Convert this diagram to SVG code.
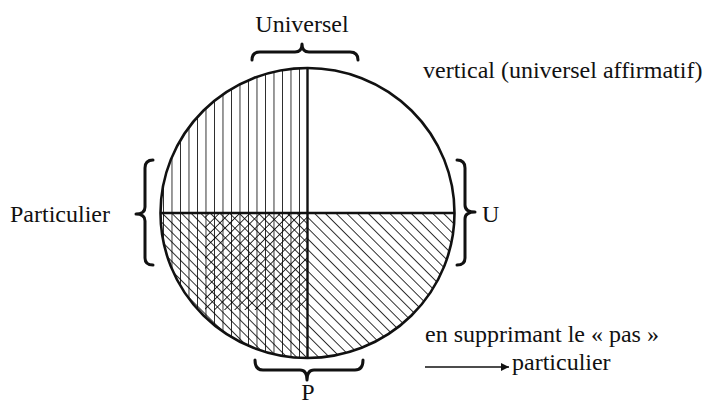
<svg xmlns="http://www.w3.org/2000/svg" width="708" height="406" viewBox="0 0 708 406">
  <style>
    text { font-family: "Liberation Serif", "Times New Roman", serif; font-size: 24px; fill: #111; }
    .brace { fill: none; stroke: #111; stroke-width: 3; stroke-linejoin: round; stroke-linecap: round; }
    .outline { fill: none; stroke: #111; stroke-width: 2.6; }
    .divider { stroke: #111; stroke-width: 2.4; }
    .hatch { stroke: #000; stroke-width: 1.6; }
  </style>
  <defs>
    <clipPath id="circ">
      <ellipse cx="307.5" cy="213" rx="147" ry="145"/>
    </clipPath>
    <clipPath id="lowerHalf">
      <rect x="150" y="213" width="320" height="160"/>
    </clipPath>
    <clipPath id="crossZone">
      <rect x="205" y="213" width="103" height="97"/>
    </clipPath>
    <pattern id="vert" patternUnits="userSpaceOnUse" x="307.5" y="0" width="8.5" height="10">
      <line x1="0" y1="-1" x2="0" y2="11" class="hatch"/>
    </pattern>
    <pattern id="backL" patternUnits="userSpaceOnUse" x="0" y="0" width="6.8" height="10" patternTransform="rotate(-45 307 213)">
      <line x1="0" y1="-1" x2="0" y2="11" class="hatch"/>
    </pattern>
    <pattern id="backR" patternUnits="userSpaceOnUse" x="0" y="0" width="7.6" height="10" patternTransform="rotate(-45 307 213)">
      <line x1="0" y1="-1" x2="0" y2="11" class="hatch"/>
    </pattern>
    <pattern id="fwd" patternUnits="userSpaceOnUse" x="0" y="0" width="7.2" height="10" patternTransform="rotate(45 307 213)">
      <line x1="0" y1="-1" x2="0" y2="11" class="hatch"/>
    </pattern>
    <marker id="arrow" viewBox="0 0 10 10" refX="10" refY="5" markerWidth="10" markerHeight="8" markerUnits="userSpaceOnUse" orient="auto">
      <path d="M0,0 L10,5 L0,10 Z" fill="#111"/>
    </marker>
  </defs>

  <g id="circle">
    <g clip-path="url(#circ)">
      <rect x="150" y="60" width="157.5" height="310" fill="url(#vert)"/>
      <g clip-path="url(#lowerHalf)">
        <rect x="150" y="213" width="157.5" height="160" fill="url(#backL)"/>
        <rect x="307.5" y="213" width="160" height="160" fill="url(#backR)"/>
        <rect x="150" y="213" width="157.5" height="160" fill="url(#fwd)" clip-path="url(#crossZone)"/>
      </g>
    </g>
    <line x1="307.5" y1="68" x2="307.5" y2="358" class="divider"/>
    <line x1="160.5" y1="213" x2="454.5" y2="213" class="divider"/>
    <ellipse cx="307.5" cy="213" rx="147" ry="145" class="outline"/>
  </g>

  <g id="universel">
    <path class="brace" d="M252,60 Q252,52 260,52 L295,52 Q302,52 302,44 Q302,52 309,52 L350,52 Q358,52 358,60"/>
    <text x="302" y="32" text-anchor="middle">Universel</text>
  </g>

  <g id="particulier">
    <path class="brace" d="M153,160 Q145,160 145,168 L145,207 Q145,214 136,214 Q145,214 145,221 L145,258 Q145,265 153,265"/>
    <text x="10" y="222">Particulier</text>
  </g>

  <g id="u">
    <path class="brace" d="M457,160 Q465,160 465,168 L465,205 Q465,212 475,212 Q465,212 465,219 L465,258 Q465,265 457,265"/>
    <text x="482" y="222">U</text>
  </g>

  <g id="p">
    <path class="brace" d="M255,360 Q255,370 263,370 L300,370 Q307,370 307,380 Q307,370 314,370 L355,370 Q363,370 363,360"/>
    <text x="308" y="400" text-anchor="middle">P</text>
  </g>

  <g id="vertical-label">
    <text x="423" y="78">vertical (universel affirmatif)</text>
  </g>

  <g id="note">
    <text x="425" y="342">en supprimant le « pas »</text>
    <text x="512" y="370">particulier</text>
  </g>

  <g id="connectors">
    <line x1="425" y1="367" x2="509" y2="367" stroke="#111" stroke-width="1.5" marker-end="url(#arrow)"/>
  </g>
</svg>
